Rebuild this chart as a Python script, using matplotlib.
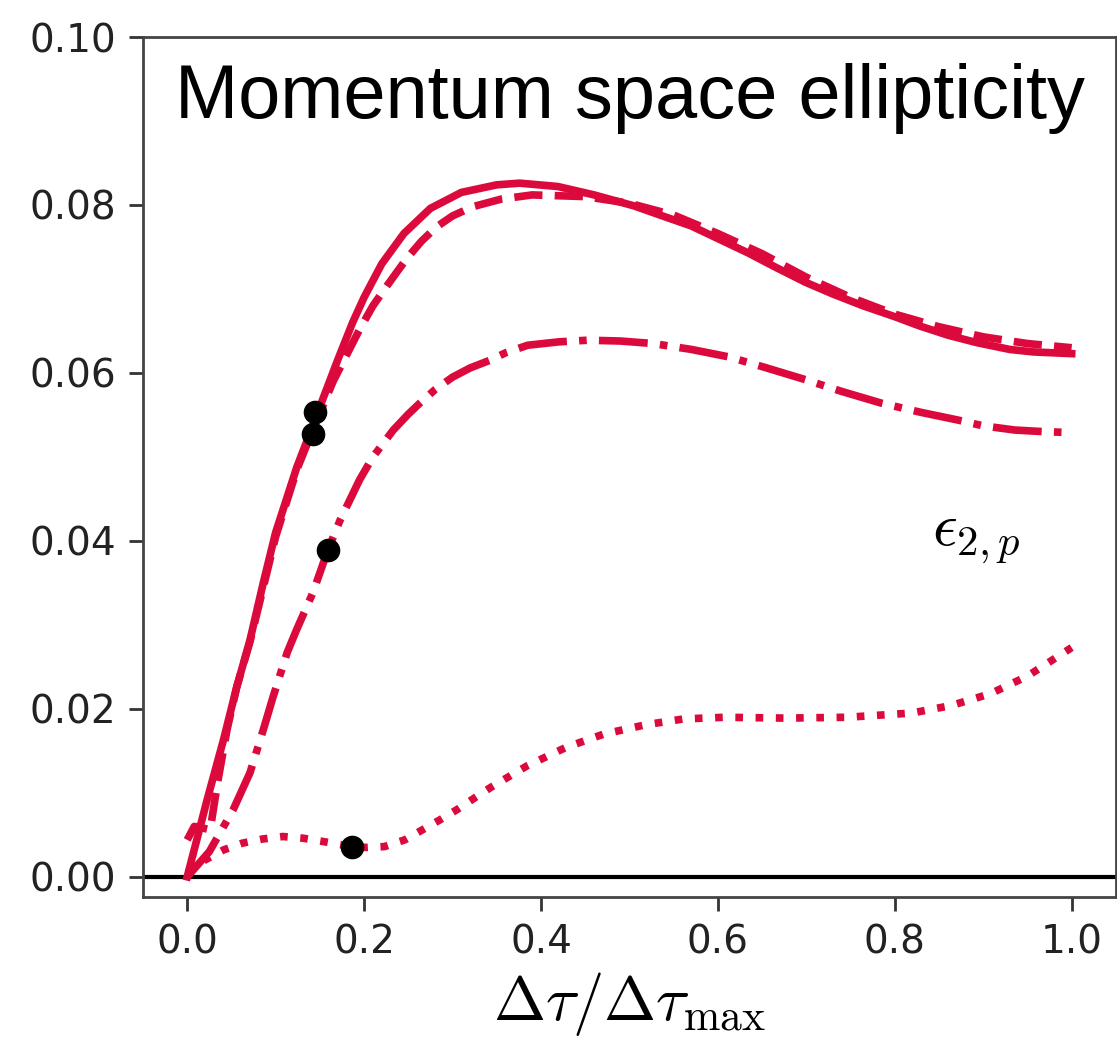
import matplotlib
matplotlib.use("Agg")
import matplotlib.pyplot as plt

plt.rcParams['mathtext.fontset'] = 'cm'

# curve values
x_solid = [0.0, 0.0226, 0.041, 0.056, 0.071, 0.086, 0.10, 0.124, 0.139, 0.153, 0.170, 0.187,
           0.20, 0.22, 0.245, 0.275, 0.31, 0.35, 0.376, 0.419, 0.46, 0.505, 0.54, 0.57, 0.60,
           0.634, 0.665, 0.699, 0.73, 0.764, 0.80, 0.828, 0.86, 0.893, 0.93, 0.957, 1.0]
y_solid = [0.0, 0.0092, 0.0163, 0.0226, 0.0282, 0.035, 0.041, 0.0488, 0.0529, 0.0568, 0.0615, 0.0660,
           0.0690, 0.0730, 0.0766, 0.0796, 0.0815, 0.0824, 0.0826, 0.0822, 0.0812, 0.0799, 0.0786, 0.0775, 0.076,
           0.0743, 0.0726, 0.0708, 0.0694, 0.068, 0.0667, 0.0656, 0.0645, 0.0636, 0.0628, 0.0625, 0.0623]

x_dashed = [0.0, 0.008, 0.018, 0.026, 0.034, 0.045, 0.056, 0.071, 0.10, 0.124, 0.142, 0.165,
            0.195, 0.21, 0.226, 0.248, 0.265, 0.282, 0.30, 0.323, 0.355, 0.39, 0.45, 0.50,
            0.55, 0.60, 0.65, 0.70, 0.75, 0.80, 0.85, 0.90, 0.95, 1.0]
y_dashed = [0.0044, 0.0060, 0.0058, 0.0056, 0.011, 0.0175, 0.0226, 0.028, 0.0405, 0.0485, 0.0532, 0.059,
            0.0652, 0.0680, 0.0704, 0.0736, 0.0757, 0.0774, 0.0787, 0.0798, 0.0807, 0.0812, 0.0810, 0.0802,
            0.0788, 0.0766, 0.0742, 0.0714, 0.069, 0.067, 0.0655, 0.0643, 0.0635, 0.063]

x_dashdot = [0.0, 0.025, 0.052, 0.071, 0.086, 0.097, 0.113, 0.124, 0.142, 0.159, 0.173, 0.184,
             0.195, 0.21, 0.233, 0.25, 0.263, 0.28, 0.30, 0.32, 0.342, 0.36, 0.385, 0.42, 0.453,
             0.49, 0.527, 0.57, 0.613, 0.655, 0.699, 0.74, 0.785, 0.83, 0.871, 0.90, 0.936, 0.97, 1.0]
y_dashdot = [0.0, 0.003, 0.008, 0.0124, 0.0175, 0.0214, 0.0267, 0.0295, 0.0338, 0.0389, 0.0425, 0.0449,
             0.0473, 0.0500, 0.0532, 0.0551, 0.0564, 0.0580, 0.0595, 0.0606, 0.0615, 0.0624, 0.0633, 0.0637, 0.0639,
             0.0638, 0.0635, 0.0628, 0.0619, 0.0606, 0.0592, 0.0578, 0.0564, 0.0553, 0.0544, 0.0537, 0.0532, 0.0530, 0.0529]

x_dotted = [0.0, 0.02, 0.041, 0.062, 0.085, 0.108, 0.131, 0.154, 0.186, 0.203, 0.223, 0.246,
            0.266, 0.286, 0.305, 0.325, 0.344, 0.384, 0.428, 0.471, 0.518, 0.561, 0.608, 0.677,
            0.746, 0.819, 0.864, 0.908, 0.95, 1.0]
y_dotted = [0.0005, 0.002, 0.0032, 0.004, 0.0045, 0.0048, 0.0046, 0.0042, 0.0036, 0.0035, 0.0036, 0.0044,
            0.0056, 0.0068, 0.008, 0.0094, 0.0107, 0.0132, 0.0154, 0.017, 0.0181, 0.0188, 0.019, 0.0189,
            0.019, 0.0195, 0.0204, 0.0218, 0.0239, 0.0273]

# black points
x_pts = [0.1445, 0.142, 0.159, 0.186]
y_pts = [0.0554, 0.0527, 0.0389, 0.0036]

xticks = [0.0, 0.2, 0.4, 0.6, 0.8, 1.0]
yticks = [0.00, 0.02, 0.04, 0.06, 0.08, 0.10]

red = '#dc0a3c'

fig = plt.figure(figsize=(11.17, 10.43), dpi=100)
ax = fig.add_axes([0.128, 0.14, 0.871, 0.8245])

ax.axhline(0.0, color='black', lw=3, zorder=1)
ax.plot(x_solid, y_solid, color=red, lw=5.5, ls='-', zorder=2)
ax.plot(x_dashed, y_dashed, color=red, lw=5.5, ls='--', zorder=2)
ax.plot(x_dashdot, y_dashdot, color=red, lw=5.5, ls='-.', zorder=2)
ax.plot(x_dotted, y_dotted, color=red, lw=5.5, ls=':', zorder=2)
ax.plot(x_pts, y_pts, 'o', color='black', ms=16, zorder=3)

ax.set_xlim(-0.05, 1.05)
ax.set_ylim(-0.0024, 0.10)
ax.set_xticks(xticks)
ax.set_yticks(yticks)
ax.set_xticklabels([f"{v:.1f}" for v in xticks])
ax.set_yticklabels([f"{v:.2f}" for v in yticks])
ax.tick_params(labelsize=28, length=10, width=2, pad=9, colors='#333333', labelcolor='#222222')
for s in ax.spines.values():
    s.set_color('#444444')
    s.set_linewidth(2)

ax.set_xlabel(r'$\Delta\tau/\Delta\tau_{\max}$', fontsize=45, labelpad=6)
ax.text(0.842, 0.0395, r'$\epsilon_{2,p}$', fontsize=44, va='baseline', ha='left')

fig.text(175 / 1117, 1 - 118 / 1043, 'Momentum space ellipticity',
         fontsize=54.5, family=['Liberation Sans', 'DejaVu Sans'], va='baseline', ha='left')

fig.savefig('out.png', dpi=100)
